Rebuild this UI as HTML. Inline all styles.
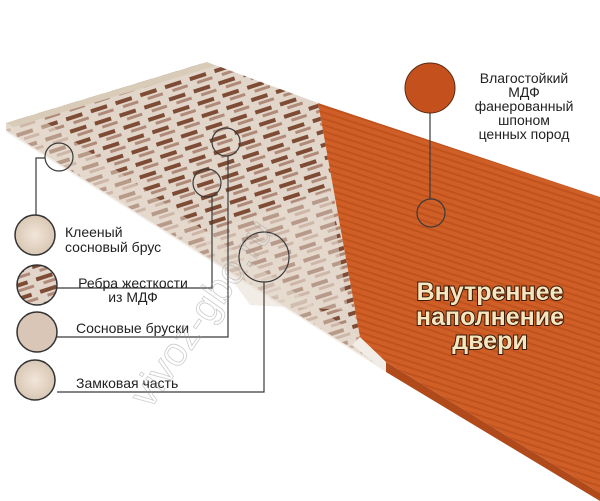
<!DOCTYPE html>
<html><head><meta charset="utf-8"><style>
html,body{margin:0;padding:0;background:#fff;}
svg{display:block;}
text{font-family:"Liberation Sans","DejaVu Sans",sans-serif;}
</style></head><body>
<svg width="600" height="501" viewBox="0 0 600 501" xmlns="http://www.w3.org/2000/svg">
<defs>
<pattern id="slats" width="26" height="13" patternUnits="userSpaceOnUse" patternTransform="rotate(-18)">
<rect width="26" height="13" fill="#e2d6ca"/>
<rect x="0" y="2" width="17" height="4" fill="#7e4b34"/>
<rect x="6" y="8" width="16" height="3" fill="#b08a78"/>
</pattern>
<pattern id="veneer" width="40" height="6" patternUnits="userSpaceOnUse" patternTransform="rotate(18)">
<rect width="40" height="6" fill="#cf5f27"/>
<rect y="0" width="40" height="2" fill="#c0521d"/>
</pattern>
<radialGradient id="pine"><stop offset="0" stop-color="#f1e6da"/><stop offset="1" stop-color="#d9c7b4"/></radialGradient>
</defs>
<!-- wood board -->
<polygon points="6,123 207,62 318,103 360,337 386,362 386,370 6,130" fill="url(#slats)"/>
<polygon points="6,123 6,132 386,372 386,362 360,337 40,118" fill="#e8ddd0" opacity="0.55"/>
<polygon points="6,123 207,62 215,66 14,127" fill="#d8cbb8"/>
<polygon points="200,235 330,190 348,310 250,305" fill="#e7ddd2" opacity="0.55"/>
<polygon points="360,337 386,362 386,372 352,345" fill="#f2ece6"/>
<!-- orange -->
<polygon points="318,103 600,197 600,493 386,362 360,337" fill="url(#veneer)"/>
<polygon points="386,362 600,493 600,501 386,372" fill="#b04a1b"/>
<!-- connectors -->
<g fill="none" stroke="#3a3a3a" stroke-width="1.2">
<polyline points="36,215 36,158 45,158"/>
<circle cx="59" cy="157" r="14"/>
<polyline points="57,288 212,288 212,197"/>
<circle cx="207" cy="183" r="14"/>
<polyline points="57,337 228,337 228,156"/>
<circle cx="226" cy="142" r="14"/>
<polyline points="57,392 264,392 264,282"/>
<circle cx="264" cy="257" r="25"/>
<line x1="430" y1="113" x2="430" y2="199"/>
<circle cx="431" cy="213" r="14"/>
</g>
<!-- swatches -->
<circle cx="35" cy="235" r="20" fill="url(#pine)" stroke="#333" stroke-width="1.5"/>
<circle cx="37" cy="285" r="20" fill="url(#slats)" stroke="#333" stroke-width="1.5"/>
<circle cx="37" cy="332" r="20" fill="#d9c6b6" stroke="#333" stroke-width="1.5"/>
<circle cx="35" cy="380" r="20" fill="url(#pine)" stroke="#333" stroke-width="1.5"/>
<circle cx="430" cy="88" r="25" fill="#c4501d" stroke="#5a2a10" stroke-width="1"/>
<!-- labels -->
<g font-size="14" fill="#222">
<text x="65" y="237">Клееный</text>
<text x="65" y="252">сосновый брус</text>
<text x="133" y="288" text-anchor="middle">Ребра жесткости</text>
<text x="133" y="302" text-anchor="middle">из МДФ</text>
<text x="76" y="333">Сосновые бруски</text>
<text x="76" y="388">Замковая часть</text>
</g>
<g font-size="14" fill="#222" text-anchor="middle">
<text x="524" y="83">Влагостойкий</text>
<text x="524" y="97">МДФ</text>
<text x="524" y="111">фанерованный</text>
<text x="524" y="125">шпоном</text>
<text x="524" y="139">ценных пород</text>
</g>
<g font-size="25" font-weight="bold" text-anchor="middle" fill="#f6e6bf" stroke="#3a1a08" stroke-width="2" paint-order="stroke">
<text x="490" y="300">Внутреннее</text>
<text x="490" y="325">наполнение</text>
<text x="490" y="349">двери</text>
</g>
<text x="150" y="410" font-size="40" font-family="Liberation Serif" fill="none" stroke="#999" stroke-width="0.8" opacity="0.5" transform="rotate(-55 150 410)">vivoz-gbo.ru</text>
</svg>
</body></html>
